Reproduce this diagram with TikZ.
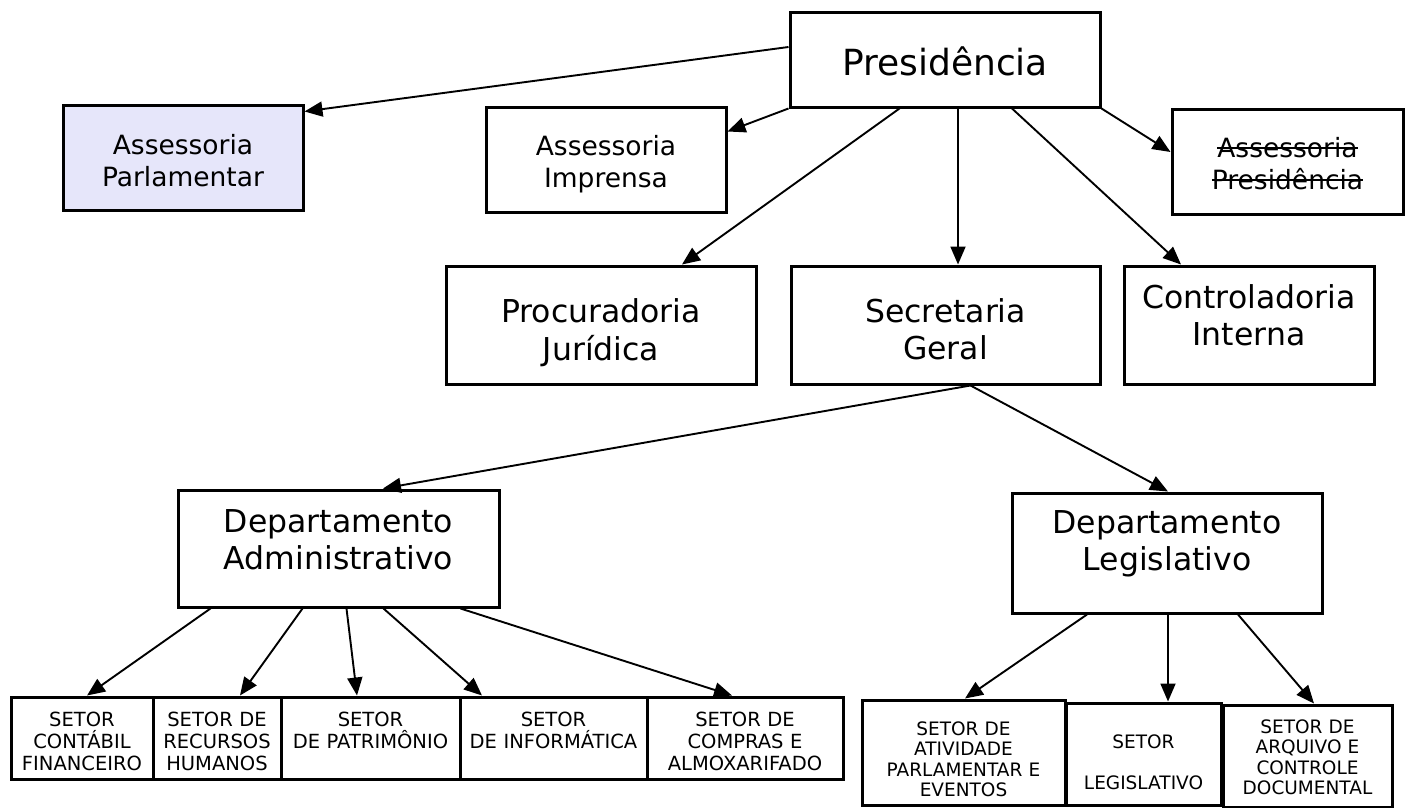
\documentclass[tikz,border=0pt]{standalone}
\usepackage{fontspec}
\setmainfont{DejaVu Sans}
\usetikzlibrary{arrows.meta}
\definecolor{parlfill}{RGB}{230,230,250}
\newsavebox\strkbox
\newcommand\strk[1]{\leavevmode\sbox\strkbox{#1}\rlap{\rule[0.31em]{\wd\strkbox}{1.8pt}}\usebox\strkbox}
\tikzstyle{box}=[draw,line width=3pt,inner sep=0pt,align=center]
\tikzstyle{edge}=[draw,line width=1.9pt,-{Triangle[length=18pt,width=15pt]}]
\tikzstyle{huge}=[font=\fontsize{36pt}{43pt}\selectfont]
\tikzstyle{large}=[font=\fontsize{31.5pt}{37.5pt}\selectfont]
\tikzstyle{medium}=[font=\fontsize{26.5pt}{32pt}\selectfont]
\tikzstyle{small}=[font=\fontsize{19.5pt}{22pt}\selectfont]
\tikzstyle{tiny}=[font=\fontsize{18.5pt}{20.5pt}\selectfont]
\tikzset{size/.style 2 args={minimum width=#1,minimum height=#2,text width=#1-8pt},
         tb/.style 2 args={text height=#1,text depth=#2}}

\begin{document}
\begin{tikzpicture}[x=1pt,y=-1pt]
    \useasboundingbox (0,0) rectangle (1405,808);

    % top level
    \node[box,huge,size={310pt}{94pt},tb={30pt}{0pt}] (pres) at (945,60) {Presidência};
    \node[box,medium,fill=parlfill,size={240pt}{105pt},tb={20pt}{27pt}] (aparl) at (183,157.5) {Assessoria\\Parlamentar};
    \node[box,medium,size={240pt}{105pt},tb={20pt}{29pt}] (aimp) at (606,159.5) {Assessoria\\Imprensa};
    \node[box,medium,size={231pt}{105pt},tb={20pt}{29pt}] (apres) at (1287.5,161.5) {\strk{Assessoria}\\\strk{Presidência}};

    % second level
    \node[box,large,size={310pt}{118pt},tb={20pt}{25pt}] (proc) at (601,325) {Procuradoria\\Jurídica};
    \node[box,large,size={309pt}{118pt},tb={20pt}{26pt}] (sec) at (945.5,325) {Secretaria\\Geral};
    \node[box,large,size={250pt}{118pt},tb={20pt}{54pt}] (contr) at (1249,325) {Controladoria\\Interna};

    % departamentos
    \node[box,large,size={321pt}{117pt},tb={20pt}{53pt}] (dadm) at (338.5,548.5) {Departamento\\Administrativo};
    \node[box,large,size={310pt}{120pt},tb={20pt}{60pt}] (dleg) at (1167,553) {Departamento\\Legislativo};

    % setores
    \node[box,small,size={142pt}{82pt},tb={10pt}{34pt}] (cont) at (82,738) {SETOR\\CONTÁBIL\\FINANCEIRO};
    \node[box,small,size={128pt}{82pt},tb={10pt}{34pt}] (rh) at (217,738) {SETOR DE\\RECURSOS\\HUMANOS};
    \node[box,small,size={179pt}{82pt},tb={10pt}{34pt}] (patr) at (370.5,738) {SETOR\\DE PATRIMÔNIO\\~};
    \node[box,small,size={187pt}{82pt},tb={10pt}{34pt}] (info) at (553.5,738) {SETOR\\DE INFORMÁTICA\\~};
    \node[box,small,size={196pt}{82pt},tb={10pt}{34pt}] (comp) at (745,738) {SETOR DE\\COMPRAS E\\ALMOXARIFADO};
    \node[box,tiny,size={203pt}{105pt},tb={10pt}{45pt}] (ativ) at (963.5,752.5) {SETOR DE\\ATIVIDADE\\PARLAMENTAR E\\EVENTOS};
    \node[box,tiny,size={155pt}{102pt},tb={10pt}{22pt}] (setleg) at (1143.5,754) {SETOR\\[21pt]LEGISLATIVO};
    \node[box,tiny,size={169pt}{102pt},tb={10pt}{56pt}] (arq) at (1307.5,756) {SETOR DE\\ARQUIVO E\\CONTROLE\\DOCUMENTAL};

    % connectors
    \draw[edge] ([yshift=13pt]pres.west) -- ([yshift=-8pt]aparl.north east);
    \draw[edge] (pres.south west) -- ([yshift=-26pt]aimp.north east);
    \draw[edge] ([xshift=111pt]pres.south west) -- ([xshift=81pt]proc.north);
    \draw[edge] ([xshift=13pt]pres.south) -- ([xshift=12.5pt]sec.north);
    \draw[edge] ([xshift=67pt]pres.south) -- ([xshift=-68pt]contr.north);
    \draw[edge] (pres.south east) -- ([yshift=9.5pt]apres.west);

    \draw[edge] ([xshift=25pt]sec.south) -- ([xshift=44.5pt]dadm.north);
    \draw[edge] ([xshift=25pt]sec.south) -- ([xshift=1pt]dleg.north);

    \foreach \sx/\dest/\dx in {34/cont/5, 126/rh/23, 170/patr/-13.5, 207/info/-71.5, 284/comp/-13}
        \path[edge] ([xshift=\sx pt]dadm.south west) -- ([xshift=\dx pt]\dest.north);

    \foreach \sx/\dest/\dx in {-80/ativ/1.5, 1/setleg/24.5, 71/arq/6.5}
        \path[edge] ([xshift=\sx pt]dleg.south) -- ([xshift=\dx pt]\dest.north);

\end{tikzpicture}
\end{document}
